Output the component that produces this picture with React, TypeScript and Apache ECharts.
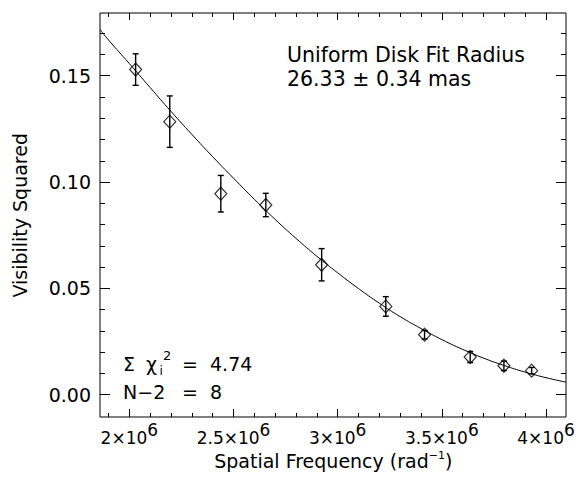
import React, { useEffect, useRef } from "react";
import * as echarts from "echarts";

// Measured data (spatial frequency in rad^-1, squared visibility, 1-sigma error)
const frequency = [2.030e6, 2.194e6, 2.439e6, 2.655e6, 2.923e6, 3.231e6, 3.417e6, 3.636e6, 3.798e6, 3.931e6];
const visSquared = [0.1529, 0.1284, 0.0945, 0.0892, 0.0611, 0.0415, 0.0282, 0.0177, 0.0136, 0.0113];
const visError = [0.0074, 0.0121, 0.0086, 0.0055, 0.0076, 0.0046, 0.0020, 0.0026, 0.0022, 0.0015];

// Fitted uniform-disk curve
const fitFrequency = [1.859e6, 1.9e6, 2.0e6, 2.1e6, 2.2e6, 2.3e6, 2.4e6, 2.5e6, 2.6e6, 2.7e6, 2.8e6, 2.9e6, 3.0e6, 3.1e6, 3.2e6, 3.3e6, 3.4e6, 3.5e6, 3.6e6, 3.7e6, 3.8e6, 3.9e6, 4.0e6, 4.096e6];
const fitVisSquared = [0.1718, 0.1668, 0.1557, 0.1444, 0.1332, 0.1224, 0.1119, 0.1018, 0.0919, 0.0824, 0.0735, 0.0651, 0.0573, 0.0499, 0.0430, 0.0367, 0.0311, 0.0259, 0.0213, 0.0172, 0.0137, 0.0106, 0.0080, 0.0059];

// Axis ticks
const xMajorTicks = [2.0e6, 2.5e6, 3.0e6, 3.5e6, 4.0e6];
const xMinorTicks = [1.9e6, 2.1e6, 2.2e6, 2.3e6, 2.4e6, 2.6e6, 2.7e6, 2.8e6, 2.9e6, 3.1e6, 3.2e6, 3.3e6, 3.4e6, 3.6e6, 3.7e6, 3.8e6, 3.9e6];
const yMajorTicks = [0.0, 0.05, 0.10, 0.15];
const yMinorTicks = [0.01, 0.02, 0.03, 0.04, 0.06, 0.07, 0.08, 0.09, 0.11, 0.12, 0.13, 0.14, 0.16, 0.17];

const X_MIN = 1.859e6;
const X_MAX = 4.096e6;
const Y_MIN = -0.0105;
const Y_MAX = 0.1795;

const FONT = "DejaVu Sans";
const BLACK = "#000";

function xAxisDef(position: "top" | "bottom", ticks: number[], len: number, labels: boolean) {
  return {
    type: "value",
    gridIndex: 0,
    position,
    min: X_MIN,
    max: X_MAX,
    axisLine: { show: false, onZero: false },
    splitLine: { show: false },
    axisTick: { show: true, inside: true, length: len, customValues: ticks, lineStyle: { color: BLACK, width: 1 } },
    axisLabel: labels
      ? {
          show: true,
          customValues: ticks,
          margin: 4,
          color: BLACK,
          fontFamily: FONT,
          formatter: (v: number) => `{m|${+(v / 1e6).toFixed(1)}×10}{s|6}`,
          rich: {
            m: { fontSize: 17, fontFamily: FONT, color: BLACK },
            s: { fontSize: 17, fontFamily: FONT, color: BLACK, padding: [0, 0, 17, 0] },
          },
        }
      : { show: false },
  };
}

function yAxisDef(position: "left" | "right", ticks: number[], len: number, labels: boolean) {
  return {
    type: "value",
    gridIndex: 0,
    position,
    min: Y_MIN,
    max: Y_MAX,
    axisLine: { show: false, onZero: false },
    splitLine: { show: false },
    axisTick: { show: true, inside: true, length: len, customValues: ticks, lineStyle: { color: BLACK, width: 1 } },
    axisLabel: labels
      ? {
          show: true,
          customValues: ticks,
          margin: 9,
          color: BLACK,
          fontFamily: FONT,
          fontSize: 19,
          formatter: (v: number) => v.toFixed(2),
        }
      : { show: false },
  };
}

export default function App() {
  const ref = useRef<HTMLDivElement>(null);

  useEffect(() => {
    if (!ref.current) return;
    const chart = echarts.init(ref.current, undefined, { renderer: "svg" });

    const pointData = frequency.map((f, i) => [f, visSquared[i]]);
    const errData = frequency.map((f, i) => [f, visSquared[i] - visError[i], visSquared[i] + visError[i]]);
    const fitData = fitFrequency.map((f, i) => [f, fitVisSquared[i]]);

    const txt = (x: number, y: number, text: string, fontSize: number, extra: any = {}) => ({
      type: "text",
      x,
      y,
      style: { text, fontSize, fontFamily: FONT, fill: BLACK, align: "left", verticalAlign: "middle", ...extra },
    });

    const option: any = {
      animation: false,
      backgroundColor: "#fff",
      grid: {
        left: 100,
        top: 13,
        right: 13,
        bottom: 64,
        containLabel: false,
        outerBoundsMode: "none",
        show: true,
        borderColor: BLACK,
        borderWidth: 1,
        backgroundColor: "transparent",
      },
      xAxis: [
        xAxisDef("bottom", xMajorTicks, 8, true),
        xAxisDef("bottom", xMinorTicks, 4, false),
        xAxisDef("top", xMajorTicks, 7, false),
        xAxisDef("top", xMinorTicks, 4, false),
      ],
      yAxis: [
        yAxisDef("left", yMajorTicks, 10, true),
        yAxisDef("left", yMinorTicks, 5, false),
        yAxisDef("right", yMajorTicks, 10, false),
        yAxisDef("right", yMinorTicks, 5, false),
      ],
      series: [
        {
          type: "line",
          data: fitData,
          smooth: true,
          showSymbol: false,
          silent: true,
          xAxisIndex: 0,
          yAxisIndex: 0,
          lineStyle: { color: BLACK, width: 1 },
          z: 2,
        },
        {
          type: "custom",
          data: errData,
          xAxisIndex: 0,
          yAxisIndex: 0,
          encode: { x: 0, y: [1, 2] },
          silent: true,
          z: 3,
          renderItem: (params: any, api: any) => {
            const lo = api.coord([api.value(0), api.value(1)]);
            const hi = api.coord([api.value(0), api.value(2)]);
            const x = lo[0];
            const cap = 3;
            const st = { stroke: BLACK, lineWidth: 1.4 };
            return {
              type: "group",
              children: [
                { type: "line", shape: { x1: x, y1: lo[1], x2: x, y2: hi[1] }, style: st },
                { type: "line", shape: { x1: x - cap, y1: lo[1], x2: x + cap, y2: lo[1] }, style: st },
                { type: "line", shape: { x1: x - cap, y1: hi[1], x2: x + cap, y2: hi[1] }, style: st },
              ],
            };
          },
        },
        {
          type: "scatter",
          data: pointData,
          xAxisIndex: 0,
          yAxisIndex: 0,
          symbol: "diamond",
          symbolSize: [12, 13],
          silent: true,
          z: 4,
          itemStyle: { color: "rgba(0,0,0,0)", borderColor: BLACK, borderWidth: 1.2 },
        },
      ],
      graphic: [
        txt(287, 43, "Uniform Disk Fit Radius\n26.33 ± 0.34 mas", 20.5, { verticalAlign: "top", lineHeight: 24 }),
        txt(123, 363.5, "Σ", 19),
        txt(146, 363.5, "χ", 19),
        txt(159.5, 371, "i", 12),
        txt(163, 355.5, "2", 13),
        txt(182, 363.5, "=", 19),
        txt(210, 363.5, "4.74", 19),
        txt(123, 391.5, "N−2", 19),
        txt(182, 391.5, "=", 19),
        txt(210, 391.5, "8", 19),
        {
          type: "text",
          x: 19.5,
          y: 215.3,
          rotation: Math.PI / 2,
          style: { text: "Visibility Squared", fontSize: 19, fontFamily: FONT, fill: BLACK, align: "center", verticalAlign: "middle" },
        },
        {
          type: "text",
          x: 333.3,
          y: 460.5,
          style: {
            text: "{n|Spatial Frequency (rad}{s|−1}{n|)}",
            align: "center",
            verticalAlign: "middle",
            fill: BLACK,
            rich: {
              n: { fontSize: 19, fontFamily: FONT, fill: BLACK },
              s: { fontSize: 11, fontFamily: FONT, fill: BLACK, padding: [0, 0, 11, 0] },
            },
          },
        },
      ],
    };

    chart.setOption(option);
    return () => chart.dispose();
  }, []);

  return <div ref={ref} style={{ position: "fixed", left: 0, top: 0, width: 579, height: 481 }} />;
}
